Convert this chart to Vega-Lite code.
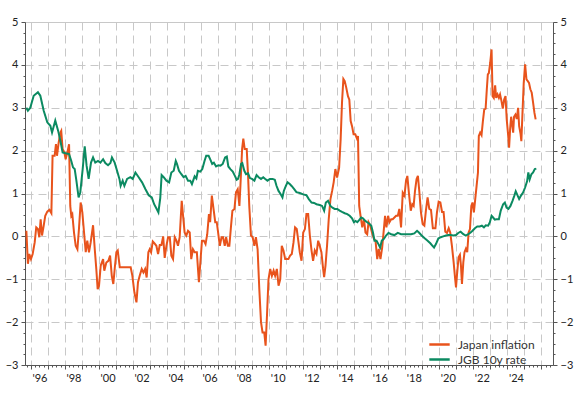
{
"$schema":"https://vega.github.io/schema/vega-lite/v6.json",
"width":528,"height":343,
"autosize":{"type":"none"},
"padding":{"left":25,"top":22,"right":26,"bottom":28},
"background":"white",
"config":{"view":{"stroke":"#c8c8c8"},"font":"Lato","axis":{"labelFont":"Lato","labelFontSize":11,"labelColor":"#222","domainColor":"#555","tickColor":"#555"}},
"data":{"values":[
{"s":"Japan inflation","t":1995.73,"v":0.13},{"s":"Japan inflation","t":1995.82,"v":-0.64},{"s":"Japan inflation","t":1995.9,"v":-0.41},{"s":"Japan inflation","t":1996.0,"v":-0.53},{"s":"Japan inflation","t":1996.1,"v":-0.41},{"s":"Japan inflation","t":1996.22,"v":-0.14},{"s":"Japan inflation","t":1996.31,"v":0.21},{"s":"Japan inflation","t":1996.41,"v":0.17},{"s":"Japan inflation","t":1996.49,"v":-0.02},{"s":"Japan inflation","t":1996.57,"v":0.4},{"s":"Japan inflation","t":1996.65,"v":0.02},{"s":"Japan inflation","t":1996.75,"v":0.25},{"s":"Japan inflation","t":1996.84,"v":0.48},{"s":"Japan inflation","t":1996.96,"v":0.58},{"s":"Japan inflation","t":1997.08,"v":0.62},{"s":"Japan inflation","t":1997.2,"v":0.54},{"s":"Japan inflation","t":1997.27,"v":1.88},{"s":"Japan inflation","t":1997.39,"v":1.88},{"s":"Japan inflation","t":1997.47,"v":2.15},{"s":"Japan inflation","t":1997.53,"v":1.88},{"s":"Japan inflation","t":1997.63,"v":2.19},{"s":"Japan inflation","t":1997.73,"v":2.42},{"s":"Japan inflation","t":1997.78,"v":2.46},{"s":"Japan inflation","t":1997.86,"v":2.04},{"s":"Japan inflation","t":1997.96,"v":1.96},{"s":"Japan inflation","t":1998.04,"v":1.8},{"s":"Japan inflation","t":1998.14,"v":1.96},{"s":"Japan inflation","t":1998.24,"v":2.15},{"s":"Japan inflation","t":1998.31,"v":0.71},{"s":"Japan inflation","t":1998.37,"v":0.48},{"s":"Japan inflation","t":1998.43,"v":0.52},{"s":"Japan inflation","t":1998.53,"v":0.09},{"s":"Japan inflation","t":1998.63,"v":-0.22},{"s":"Japan inflation","t":1998.73,"v":-0.3},{"s":"Japan inflation","t":1998.82,"v":0.17},{"s":"Japan inflation","t":1998.92,"v":0.79},{"s":"Japan inflation","t":1999.02,"v":0.56},{"s":"Japan inflation","t":1999.12,"v":0.09},{"s":"Japan inflation","t":1999.22,"v":-0.37},{"s":"Japan inflation","t":1999.31,"v":-0.1},{"s":"Japan inflation","t":1999.41,"v":-0.37},{"s":"Japan inflation","t":1999.51,"v":-0.14},{"s":"Japan inflation","t":1999.65,"v":0.26},{"s":"Japan inflation","t":1999.75,"v":-0.3},{"s":"Japan inflation","t":1999.84,"v":-0.76},{"s":"Japan inflation","t":1999.92,"v":-1.23},{"s":"Japan inflation","t":2000.0,"v":-1.15},{"s":"Japan inflation","t":2000.1,"v":-0.68},{"s":"Japan inflation","t":2000.24,"v":-0.53},{"s":"Japan inflation","t":2000.31,"v":-0.8},{"s":"Japan inflation","t":2000.43,"v":-0.61},{"s":"Japan inflation","t":2000.55,"v":-0.57},{"s":"Japan inflation","t":2000.65,"v":-0.45},{"s":"Japan inflation","t":2000.75,"v":-0.92},{"s":"Japan inflation","t":2000.84,"v":-1.11},{"s":"Japan inflation","t":2000.94,"v":-0.68},{"s":"Japan inflation","t":2001.02,"v":-0.37},{"s":"Japan inflation","t":2001.1,"v":-0.33},{"s":"Japan inflation","t":2001.22,"v":-0.72},{"s":"Japan inflation","t":2001.37,"v":-0.72},{"s":"Japan inflation","t":2001.57,"v":-0.72},{"s":"Japan inflation","t":2001.86,"v":-0.72},{"s":"Japan inflation","t":2001.96,"v":-0.92},{"s":"Japan inflation","t":2002.08,"v":-1.31},{"s":"Japan inflation","t":2002.2,"v":-1.54},{"s":"Japan inflation","t":2002.29,"v":-1.07},{"s":"Japan inflation","t":2002.39,"v":-0.92},{"s":"Japan inflation","t":2002.51,"v":-0.76},{"s":"Japan inflation","t":2002.61,"v":-0.84},{"s":"Japan inflation","t":2002.71,"v":-0.76},{"s":"Japan inflation","t":2002.8,"v":-0.96},{"s":"Japan inflation","t":2002.9,"v":-0.37},{"s":"Japan inflation","t":2002.98,"v":-0.3},{"s":"Japan inflation","t":2003.06,"v":-0.37},{"s":"Japan inflation","t":2003.16,"v":-0.12},{"s":"Japan inflation","t":2003.25,"v":-0.16},{"s":"Japan inflation","t":2003.37,"v":-0.22},{"s":"Japan inflation","t":2003.47,"v":-0.41},{"s":"Japan inflation","t":2003.57,"v":-0.2},{"s":"Japan inflation","t":2003.67,"v":-0.2},{"s":"Japan inflation","t":2003.77,"v":0.0},{"s":"Japan inflation","t":2003.86,"v":-0.5},{"s":"Japan inflation","t":2003.96,"v":-0.22},{"s":"Japan inflation","t":2004.06,"v":-0.02},{"s":"Japan inflation","t":2004.16,"v":-0.02},{"s":"Japan inflation","t":2004.25,"v":-0.45},{"s":"Japan inflation","t":2004.35,"v":-0.53},{"s":"Japan inflation","t":2004.45,"v":-0.02},{"s":"Japan inflation","t":2004.55,"v":-0.1},{"s":"Japan inflation","t":2004.64,"v":-0.22},{"s":"Japan inflation","t":2004.74,"v":-0.02},{"s":"Japan inflation","t":2004.86,"v":0.83},{"s":"Japan inflation","t":2004.94,"v":0.48},{"s":"Japan inflation","t":2005.03,"v":0.09},{"s":"Japan inflation","t":2005.13,"v":0.02},{"s":"Japan inflation","t":2005.23,"v":0.13},{"s":"Japan inflation","t":2005.33,"v":0.09},{"s":"Japan inflation","t":2005.42,"v":-0.53},{"s":"Japan inflation","t":2005.52,"v":-0.3},{"s":"Japan inflation","t":2005.62,"v":-0.37},{"s":"Japan inflation","t":2005.75,"v":-0.37},{"s":"Japan inflation","t":2005.87,"v":-1.07},{"s":"Japan inflation","t":2005.97,"v":-0.53},{"s":"Japan inflation","t":2006.05,"v":-0.1},{"s":"Japan inflation","t":2006.16,"v":-0.1},{"s":"Japan inflation","t":2006.26,"v":-0.18},{"s":"Japan inflation","t":2006.36,"v":0.05},{"s":"Japan inflation","t":2006.46,"v":0.52},{"s":"Japan inflation","t":2006.53,"v":0.33},{"s":"Japan inflation","t":2006.63,"v":0.95},{"s":"Japan inflation","t":2006.73,"v":0.64},{"s":"Japan inflation","t":2006.83,"v":0.33},{"s":"Japan inflation","t":2006.92,"v":0.33},{"s":"Japan inflation","t":2007.0,"v":0.09},{"s":"Japan inflation","t":2007.1,"v":-0.22},{"s":"Japan inflation","t":2007.2,"v":-0.02},{"s":"Japan inflation","t":2007.29,"v":-0.02},{"s":"Japan inflation","t":2007.39,"v":-0.22},{"s":"Japan inflation","t":2007.47,"v":-0.02},{"s":"Japan inflation","t":2007.57,"v":-0.22},{"s":"Japan inflation","t":2007.66,"v":-0.22},{"s":"Japan inflation","t":2007.76,"v":0.25},{"s":"Japan inflation","t":2007.84,"v":0.6},{"s":"Japan inflation","t":2007.96,"v":0.64},{"s":"Japan inflation","t":2008.05,"v":1.03},{"s":"Japan inflation","t":2008.15,"v":1.1},{"s":"Japan inflation","t":2008.25,"v":0.71},{"s":"Japan inflation","t":2008.31,"v":1.18},{"s":"Japan inflation","t":2008.41,"v":2.04},{"s":"Japan inflation","t":2008.48,"v":2.28},{"s":"Japan inflation","t":2008.56,"v":2.04},{"s":"Japan inflation","t":2008.68,"v":2.04},{"s":"Japan inflation","t":2008.76,"v":1.41},{"s":"Japan inflation","t":2008.83,"v":0.71},{"s":"Japan inflation","t":2008.93,"v":0.02},{"s":"Japan inflation","t":2009.03,"v":-0.02},{"s":"Japan inflation","t":2009.13,"v":-0.22},{"s":"Japan inflation","t":2009.22,"v":-0.02},{"s":"Japan inflation","t":2009.32,"v":-0.3},{"s":"Japan inflation","t":2009.42,"v":-1.23},{"s":"Japan inflation","t":2009.52,"v":-2.0},{"s":"Japan inflation","t":2009.61,"v":-2.24},{"s":"Japan inflation","t":2009.71,"v":-2.24},{"s":"Japan inflation","t":2009.79,"v":-2.55},{"s":"Japan inflation","t":2009.87,"v":-1.85},{"s":"Japan inflation","t":2009.96,"v":-1.0},{"s":"Japan inflation","t":2010.06,"v":-0.76},{"s":"Japan inflation","t":2010.16,"v":-0.92},{"s":"Japan inflation","t":2010.26,"v":-0.8},{"s":"Japan inflation","t":2010.35,"v":-0.92},{"s":"Japan inflation","t":2010.45,"v":-0.76},{"s":"Japan inflation","t":2010.55,"v":-1.15},{"s":"Japan inflation","t":2010.65,"v":-1.0},{"s":"Japan inflation","t":2010.74,"v":-0.22},{"s":"Japan inflation","t":2010.84,"v":-0.33},{"s":"Japan inflation","t":2010.94,"v":-0.53},{"s":"Japan inflation","t":2011.04,"v":-0.53},{"s":"Japan inflation","t":2011.13,"v":-0.53},{"s":"Japan inflation","t":2011.23,"v":-0.45},{"s":"Japan inflation","t":2011.33,"v":-0.41},{"s":"Japan inflation","t":2011.43,"v":-0.14},{"s":"Japan inflation","t":2011.52,"v":0.21},{"s":"Japan inflation","t":2011.62,"v":0.17},{"s":"Japan inflation","t":2011.71,"v":-0.1},{"s":"Japan inflation","t":2011.8,"v":-0.37},{"s":"Japan inflation","t":2011.9,"v":-0.57},{"s":"Japan inflation","t":2012.0,"v":0.09},{"s":"Japan inflation","t":2012.1,"v":0.17},{"s":"Japan inflation","t":2012.19,"v":0.52},{"s":"Japan inflation","t":2012.29,"v":0.52},{"s":"Japan inflation","t":2012.39,"v":0.02},{"s":"Japan inflation","t":2012.49,"v":-0.33},{"s":"Japan inflation","t":2012.58,"v":-0.57},{"s":"Japan inflation","t":2012.68,"v":-0.33},{"s":"Japan inflation","t":2012.78,"v":-0.41},{"s":"Japan inflation","t":2012.88,"v":-0.1},{"s":"Japan inflation","t":2012.97,"v":-0.22},{"s":"Japan inflation","t":2013.07,"v":-0.37},{"s":"Japan inflation","t":2013.17,"v":-0.76},{"s":"Japan inflation","t":2013.23,"v":-0.95},{"s":"Japan inflation","t":2013.31,"v":-0.68},{"s":"Japan inflation","t":2013.4,"v":-0.22},{"s":"Japan inflation","t":2013.5,"v":0.4},{"s":"Japan inflation","t":2013.6,"v":0.87},{"s":"Japan inflation","t":2013.7,"v":1.06},{"s":"Japan inflation","t":2013.79,"v":1.26},{"s":"Japan inflation","t":2013.89,"v":1.57},{"s":"Japan inflation","t":2013.99,"v":1.37},{"s":"Japan inflation","t":2014.11,"v":1.6},{"s":"Japan inflation","t":2014.2,"v":2.26},{"s":"Japan inflation","t":2014.28,"v":3.12},{"s":"Japan inflation","t":2014.36,"v":3.67},{"s":"Japan inflation","t":2014.44,"v":3.62},{"s":"Japan inflation","t":2014.53,"v":3.47},{"s":"Japan inflation","t":2014.63,"v":3.27},{"s":"Japan inflation","t":2014.71,"v":3.19},{"s":"Japan inflation","t":2014.79,"v":2.69},{"s":"Japan inflation","t":2014.87,"v":2.57},{"s":"Japan inflation","t":2014.96,"v":2.38},{"s":"Japan inflation","t":2015.06,"v":2.38},{"s":"Japan inflation","t":2015.16,"v":2.28},{"s":"Japan inflation","t":2015.22,"v":2.34},{"s":"Japan inflation","t":2015.29,"v":0.71},{"s":"Japan inflation","t":2015.37,"v":0.48},{"s":"Japan inflation","t":2015.47,"v":0.21},{"s":"Japan inflation","t":2015.57,"v":0.4},{"s":"Japan inflation","t":2015.66,"v":0.09},{"s":"Japan inflation","t":2015.76,"v":0.05},{"s":"Japan inflation","t":2015.84,"v":0.33},{"s":"Japan inflation","t":2015.94,"v":0.25},{"s":"Japan inflation","t":2016.04,"v":0.09},{"s":"Japan inflation","t":2016.16,"v":-0.06},{"s":"Japan inflation","t":2016.25,"v":-0.1},{"s":"Japan inflation","t":2016.35,"v":-0.53},{"s":"Japan inflation","t":2016.44,"v":-0.29},{"s":"Japan inflation","t":2016.54,"v":-0.53},{"s":"Japan inflation","t":2016.64,"v":-0.26},{"s":"Japan inflation","t":2016.74,"v":0.17},{"s":"Japan inflation","t":2016.81,"v":0.48},{"s":"Japan inflation","t":2016.89,"v":0.21},{"s":"Japan inflation","t":2016.99,"v":0.48},{"s":"Japan inflation","t":2017.07,"v":0.33},{"s":"Japan inflation","t":2017.17,"v":0.4},{"s":"Japan inflation","t":2017.26,"v":0.4},{"s":"Japan inflation","t":2017.36,"v":0.44},{"s":"Japan inflation","t":2017.46,"v":0.48},{"s":"Japan inflation","t":2017.56,"v":0.48},{"s":"Japan inflation","t":2017.65,"v":0.64},{"s":"Japan inflation","t":2017.75,"v":0.21},{"s":"Japan inflation","t":2017.85,"v":1.02},{"s":"Japan inflation","t":2017.95,"v":0.95},{"s":"Japan inflation","t":2018.04,"v":1.29},{"s":"Japan inflation","t":2018.12,"v":1.41},{"s":"Japan inflation","t":2018.22,"v":0.98},{"s":"Japan inflation","t":2018.32,"v":0.6},{"s":"Japan inflation","t":2018.41,"v":0.75},{"s":"Japan inflation","t":2018.49,"v":0.71},{"s":"Japan inflation","t":2018.57,"v":1.06},{"s":"Japan inflation","t":2018.66,"v":1.33},{"s":"Japan inflation","t":2018.74,"v":1.41},{"s":"Japan inflation","t":2018.82,"v":1.06},{"s":"Japan inflation","t":2018.92,"v":0.56},{"s":"Japan inflation","t":2019.02,"v":0.29},{"s":"Japan inflation","t":2019.12,"v":0.25},{"s":"Japan inflation","t":2019.21,"v":0.6},{"s":"Japan inflation","t":2019.31,"v":0.91},{"s":"Japan inflation","t":2019.41,"v":0.64},{"s":"Japan inflation","t":2019.51,"v":0.62},{"s":"Japan inflation","t":2019.62,"v":0.19},{"s":"Japan inflation","t":2019.77,"v":0.19},{"s":"Japan inflation","t":2019.86,"v":0.56},{"s":"Japan inflation","t":2019.96,"v":0.81},{"s":"Japan inflation","t":2020.06,"v":0.79},{"s":"Japan inflation","t":2020.16,"v":0.57},{"s":"Japan inflation","t":2020.25,"v":0.57},{"s":"Japan inflation","t":2020.35,"v":0.11},{"s":"Japan inflation","t":2020.45,"v":0.08},{"s":"Japan inflation","t":2020.55,"v":0.19},{"s":"Japan inflation","t":2020.64,"v":0.09},{"s":"Japan inflation","t":2020.74,"v":-0.22},{"s":"Japan inflation","t":2020.84,"v":-0.6},{"s":"Japan inflation","t":2020.92,"v":-0.95},{"s":"Japan inflation","t":2020.98,"v":-1.19},{"s":"Japan inflation","t":2021.05,"v":-0.84},{"s":"Japan inflation","t":2021.13,"v":-0.49},{"s":"Japan inflation","t":2021.21,"v":-0.43},{"s":"Japan inflation","t":2021.27,"v":-0.68},{"s":"Japan inflation","t":2021.33,"v":-1.11},{"s":"Japan inflation","t":2021.41,"v":-0.6},{"s":"Japan inflation","t":2021.48,"v":-0.37},{"s":"Japan inflation","t":2021.56,"v":-0.29},{"s":"Japan inflation","t":2021.64,"v":-0.37},{"s":"Japan inflation","t":2021.72,"v":0.09},{"s":"Japan inflation","t":2021.8,"v":0.17},{"s":"Japan inflation","t":2021.88,"v":0.71},{"s":"Japan inflation","t":2021.95,"v":0.79},{"s":"Japan inflation","t":2022.03,"v":0.56},{"s":"Japan inflation","t":2022.11,"v":0.87},{"s":"Japan inflation","t":2022.19,"v":1.18},{"s":"Japan inflation","t":2022.27,"v":1.49},{"s":"Japan inflation","t":2022.32,"v":2.34},{"s":"Japan inflation","t":2022.4,"v":2.42},{"s":"Japan inflation","t":2022.48,"v":2.36},{"s":"Japan inflation","t":2022.56,"v":2.69},{"s":"Japan inflation","t":2022.64,"v":2.96},{"s":"Japan inflation","t":2022.72,"v":2.98},{"s":"Japan inflation","t":2022.79,"v":3.43},{"s":"Japan inflation","t":2022.85,"v":3.78},{"s":"Japan inflation","t":2022.91,"v":3.81},{"s":"Japan inflation","t":2022.99,"v":4.05},{"s":"Japan inflation","t":2023.07,"v":4.36},{"s":"Japan inflation","t":2023.13,"v":3.27},{"s":"Japan inflation","t":2023.2,"v":3.23},{"s":"Japan inflation","t":2023.28,"v":3.52},{"s":"Japan inflation","t":2023.34,"v":3.23},{"s":"Japan inflation","t":2023.42,"v":3.31},{"s":"Japan inflation","t":2023.5,"v":3.23},{"s":"Japan inflation","t":2023.57,"v":3.31},{"s":"Japan inflation","t":2023.65,"v":3.16},{"s":"Japan inflation","t":2023.73,"v":2.98},{"s":"Japan inflation","t":2023.81,"v":3.19},{"s":"Japan inflation","t":2023.89,"v":3.27},{"s":"Japan inflation","t":2023.96,"v":2.73},{"s":"Japan inflation","t":2024.04,"v":2.38},{"s":"Japan inflation","t":2024.1,"v":2.07},{"s":"Japan inflation","t":2024.16,"v":2.5},{"s":"Japan inflation","t":2024.22,"v":2.79},{"s":"Japan inflation","t":2024.28,"v":2.61},{"s":"Japan inflation","t":2024.34,"v":2.42},{"s":"Japan inflation","t":2024.39,"v":2.79},{"s":"Japan inflation","t":2024.47,"v":2.84},{"s":"Japan inflation","t":2024.55,"v":2.74},{"s":"Japan inflation","t":2024.63,"v":3.0},{"s":"Japan inflation","t":2024.69,"v":2.57},{"s":"Japan inflation","t":2024.77,"v":2.4},{"s":"Japan inflation","t":2024.82,"v":2.22},{"s":"Japan inflation","t":2024.88,"v":2.81},{"s":"Japan inflation","t":2024.96,"v":3.58},{"s":"Japan inflation","t":2025.04,"v":4.01},{"s":"Japan inflation","t":2025.12,"v":3.66},{"s":"Japan inflation","t":2025.2,"v":3.62},{"s":"Japan inflation","t":2025.27,"v":3.58},{"s":"Japan inflation","t":2025.35,"v":3.43},{"s":"Japan inflation","t":2025.43,"v":3.35},{"s":"Japan inflation","t":2025.51,"v":3.12},{"s":"Japan inflation","t":2025.59,"v":2.88},{"s":"Japan inflation","t":2025.66,"v":2.73},
{"s":"JGB 10y rate","t":1995.73,"v":3.0},{"s":"JGB 10y rate","t":1995.82,"v":2.93},{"s":"JGB 10y rate","t":1995.96,"v":3.0},{"s":"JGB 10y rate","t":1996.16,"v":3.28},{"s":"JGB 10y rate","t":1996.41,"v":3.36},{"s":"JGB 10y rate","t":1996.55,"v":3.28},{"s":"JGB 10y rate","t":1996.75,"v":2.93},{"s":"JGB 10y rate","t":1996.96,"v":2.66},{"s":"JGB 10y rate","t":1997.14,"v":2.58},{"s":"JGB 10y rate","t":1997.24,"v":2.42},{"s":"JGB 10y rate","t":1997.43,"v":2.7},{"s":"JGB 10y rate","t":1997.6,"v":2.46},{"s":"JGB 10y rate","t":1997.75,"v":2.19},{"s":"JGB 10y rate","t":1997.86,"v":1.96},{"s":"JGB 10y rate","t":1998.04,"v":1.94},{"s":"JGB 10y rate","t":1998.24,"v":1.92},{"s":"JGB 10y rate","t":1998.37,"v":1.76},{"s":"JGB 10y rate","t":1998.47,"v":1.61},{"s":"JGB 10y rate","t":1998.57,"v":1.57},{"s":"JGB 10y rate","t":1998.67,"v":1.3},{"s":"JGB 10y rate","t":1998.8,"v":0.91},{"s":"JGB 10y rate","t":1998.9,"v":1.03},{"s":"JGB 10y rate","t":1999.04,"v":1.57},{"s":"JGB 10y rate","t":1999.16,"v":2.1},{"s":"JGB 10y rate","t":1999.27,"v":1.65},{"s":"JGB 10y rate","t":1999.39,"v":1.34},{"s":"JGB 10y rate","t":1999.53,"v":1.72},{"s":"JGB 10y rate","t":1999.65,"v":1.84},{"s":"JGB 10y rate","t":1999.78,"v":1.72},{"s":"JGB 10y rate","t":1999.94,"v":1.76},{"s":"JGB 10y rate","t":2000.08,"v":1.72},{"s":"JGB 10y rate","t":2000.24,"v":1.8},{"s":"JGB 10y rate","t":2000.37,"v":1.71},{"s":"JGB 10y rate","t":2000.53,"v":1.66},{"s":"JGB 10y rate","t":2000.67,"v":1.71},{"s":"JGB 10y rate","t":2000.76,"v":1.84},{"s":"JGB 10y rate","t":2000.92,"v":1.72},{"s":"JGB 10y rate","t":2001.06,"v":1.53},{"s":"JGB 10y rate","t":2001.2,"v":1.34},{"s":"JGB 10y rate","t":2001.27,"v":1.18},{"s":"JGB 10y rate","t":2001.39,"v":1.3},{"s":"JGB 10y rate","t":2001.49,"v":1.18},{"s":"JGB 10y rate","t":2001.65,"v":1.34},{"s":"JGB 10y rate","t":2001.84,"v":1.38},{"s":"JGB 10y rate","t":2001.98,"v":1.34},{"s":"JGB 10y rate","t":2002.14,"v":1.49},{"s":"JGB 10y rate","t":2002.33,"v":1.38},{"s":"JGB 10y rate","t":2002.53,"v":1.26},{"s":"JGB 10y rate","t":2002.73,"v":1.1},{"s":"JGB 10y rate","t":2002.92,"v":0.96},{"s":"JGB 10y rate","t":2003.1,"v":0.91},{"s":"JGB 10y rate","t":2003.24,"v":0.75},{"s":"JGB 10y rate","t":2003.39,"v":0.64},{"s":"JGB 10y rate","t":2003.49,"v":0.56},{"s":"JGB 10y rate","t":2003.6,"v":0.9},{"s":"JGB 10y rate","t":2003.68,"v":1.43},{"s":"JGB 10y rate","t":2003.8,"v":1.38},{"s":"JGB 10y rate","t":2003.96,"v":1.3},{"s":"JGB 10y rate","t":2004.12,"v":1.26},{"s":"JGB 10y rate","t":2004.25,"v":1.49},{"s":"JGB 10y rate","t":2004.39,"v":1.53},{"s":"JGB 10y rate","t":2004.51,"v":1.76},{"s":"JGB 10y rate","t":2004.58,"v":1.69},{"s":"JGB 10y rate","t":2004.7,"v":1.53},{"s":"JGB 10y rate","t":2004.84,"v":1.45},{"s":"JGB 10y rate","t":2004.97,"v":1.38},{"s":"JGB 10y rate","t":2005.09,"v":1.41},{"s":"JGB 10y rate","t":2005.23,"v":1.3},{"s":"JGB 10y rate","t":2005.36,"v":1.3},{"s":"JGB 10y rate","t":2005.46,"v":1.22},{"s":"JGB 10y rate","t":2005.62,"v":1.4},{"s":"JGB 10y rate","t":2005.72,"v":1.35},{"s":"JGB 10y rate","t":2005.81,"v":1.53},{"s":"JGB 10y rate","t":2005.95,"v":1.51},{"s":"JGB 10y rate","t":2006.07,"v":1.57},{"s":"JGB 10y rate","t":2006.2,"v":1.76},{"s":"JGB 10y rate","t":2006.3,"v":1.88},{"s":"JGB 10y rate","t":2006.44,"v":1.88},{"s":"JGB 10y rate","t":2006.53,"v":1.8},{"s":"JGB 10y rate","t":2006.65,"v":1.69},{"s":"JGB 10y rate","t":2006.75,"v":1.72},{"s":"JGB 10y rate","t":2006.88,"v":1.63},{"s":"JGB 10y rate","t":2007.02,"v":1.66},{"s":"JGB 10y rate","t":2007.14,"v":1.65},{"s":"JGB 10y rate","t":2007.27,"v":1.69},{"s":"JGB 10y rate","t":2007.41,"v":1.84},{"s":"JGB 10y rate","t":2007.51,"v":1.86},{"s":"JGB 10y rate","t":2007.6,"v":1.63},{"s":"JGB 10y rate","t":2007.72,"v":1.57},{"s":"JGB 10y rate","t":2007.86,"v":1.51},{"s":"JGB 10y rate","t":2008.0,"v":1.4},{"s":"JGB 10y rate","t":2008.09,"v":1.32},{"s":"JGB 10y rate","t":2008.17,"v":1.34},{"s":"JGB 10y rate","t":2008.25,"v":1.45},{"s":"JGB 10y rate","t":2008.35,"v":1.69},{"s":"JGB 10y rate","t":2008.42,"v":1.71},{"s":"JGB 10y rate","t":2008.54,"v":1.53},{"s":"JGB 10y rate","t":2008.64,"v":1.45},{"s":"JGB 10y rate","t":2008.76,"v":1.47},{"s":"JGB 10y rate","t":2008.87,"v":1.36},{"s":"JGB 10y rate","t":2008.99,"v":1.34},{"s":"JGB 10y rate","t":2009.13,"v":1.3},{"s":"JGB 10y rate","t":2009.26,"v":1.43},{"s":"JGB 10y rate","t":2009.38,"v":1.38},{"s":"JGB 10y rate","t":2009.52,"v":1.34},{"s":"JGB 10y rate","t":2009.65,"v":1.38},{"s":"JGB 10y rate","t":2009.77,"v":1.34},{"s":"JGB 10y rate","t":2009.9,"v":1.3},{"s":"JGB 10y rate","t":2010.04,"v":1.34},{"s":"JGB 10y rate","t":2010.2,"v":1.34},{"s":"JGB 10y rate","t":2010.33,"v":1.32},{"s":"JGB 10y rate","t":2010.43,"v":1.18},{"s":"JGB 10y rate","t":2010.55,"v":1.06},{"s":"JGB 10y rate","t":2010.67,"v":0.99},{"s":"JGB 10y rate","t":2010.78,"v":0.91},{"s":"JGB 10y rate","t":2010.86,"v":1.06},{"s":"JGB 10y rate","t":2010.98,"v":1.18},{"s":"JGB 10y rate","t":2011.08,"v":1.26},{"s":"JGB 10y rate","t":2011.21,"v":1.22},{"s":"JGB 10y rate","t":2011.33,"v":1.17},{"s":"JGB 10y rate","t":2011.47,"v":1.1},{"s":"JGB 10y rate","t":2011.6,"v":1.03},{"s":"JGB 10y rate","t":2011.8,"v":1.01},{"s":"JGB 10y rate","t":2012.0,"v":0.98},{"s":"JGB 10y rate","t":2012.19,"v":0.96},{"s":"JGB 10y rate","t":2012.33,"v":0.87},{"s":"JGB 10y rate","t":2012.49,"v":0.79},{"s":"JGB 10y rate","t":2012.64,"v":0.78},{"s":"JGB 10y rate","t":2012.78,"v":0.75},{"s":"JGB 10y rate","t":2012.97,"v":0.73},{"s":"JGB 10y rate","t":2013.11,"v":0.71},{"s":"JGB 10y rate","t":2013.23,"v":0.6},{"s":"JGB 10y rate","t":2013.33,"v":0.79},{"s":"JGB 10y rate","t":2013.46,"v":0.83},{"s":"JGB 10y rate","t":2013.6,"v":0.71},{"s":"JGB 10y rate","t":2013.72,"v":0.67},{"s":"JGB 10y rate","t":2013.85,"v":0.64},{"s":"JGB 10y rate","t":2014.0,"v":0.64},{"s":"JGB 10y rate","t":2014.14,"v":0.6},{"s":"JGB 10y rate","t":2014.28,"v":0.57},{"s":"JGB 10y rate","t":2014.44,"v":0.54},{"s":"JGB 10y rate","t":2014.59,"v":0.52},{"s":"JGB 10y rate","t":2014.73,"v":0.48},{"s":"JGB 10y rate","t":2014.87,"v":0.42},{"s":"JGB 10y rate","t":2014.98,"v":0.33},{"s":"JGB 10y rate","t":2015.08,"v":0.36},{"s":"JGB 10y rate","t":2015.18,"v":0.33},{"s":"JGB 10y rate","t":2015.31,"v":0.39},{"s":"JGB 10y rate","t":2015.41,"v":0.44},{"s":"JGB 10y rate","t":2015.51,"v":0.42},{"s":"JGB 10y rate","t":2015.65,"v":0.36},{"s":"JGB 10y rate","t":2015.76,"v":0.33},{"s":"JGB 10y rate","t":2015.9,"v":0.29},{"s":"JGB 10y rate","t":2016.0,"v":0.25},{"s":"JGB 10y rate","t":2016.1,"v":0.09},{"s":"JGB 10y rate","t":2016.19,"v":-0.1},{"s":"JGB 10y rate","t":2016.31,"v":-0.1},{"s":"JGB 10y rate","t":2016.42,"v":-0.18},{"s":"JGB 10y rate","t":2016.52,"v":-0.26},{"s":"JGB 10y rate","t":2016.62,"v":-0.1},{"s":"JGB 10y rate","t":2016.74,"v":-0.06},{"s":"JGB 10y rate","t":2016.87,"v":0.02},{"s":"JGB 10y rate","t":2017.01,"v":0.08},{"s":"JGB 10y rate","t":2017.17,"v":0.05},{"s":"JGB 10y rate","t":2017.36,"v":0.03},{"s":"JGB 10y rate","t":2017.56,"v":0.08},{"s":"JGB 10y rate","t":2017.75,"v":0.05},{"s":"JGB 10y rate","t":2017.95,"v":0.05},{"s":"JGB 10y rate","t":2018.14,"v":0.05},{"s":"JGB 10y rate","t":2018.34,"v":0.05},{"s":"JGB 10y rate","t":2018.53,"v":0.07},{"s":"JGB 10y rate","t":2018.69,"v":0.13},{"s":"JGB 10y rate","t":2018.8,"v":0.09},{"s":"JGB 10y rate","t":2018.96,"v":0.02},{"s":"JGB 10y rate","t":2019.12,"v":-0.04},{"s":"JGB 10y rate","t":2019.31,"v":-0.1},{"s":"JGB 10y rate","t":2019.47,"v":-0.16},{"s":"JGB 10y rate","t":2019.6,"v":-0.22},{"s":"JGB 10y rate","t":2019.69,"v":-0.26},{"s":"JGB 10y rate","t":2019.8,"v":-0.18},{"s":"JGB 10y rate","t":2019.94,"v":-0.05},{"s":"JGB 10y rate","t":2020.08,"v":-0.02},{"s":"JGB 10y rate","t":2020.23,"v":0.0},{"s":"JGB 10y rate","t":2020.39,"v":0.02},{"s":"JGB 10y rate","t":2020.53,"v":0.03},{"s":"JGB 10y rate","t":2020.66,"v":0.03},{"s":"JGB 10y rate","t":2020.82,"v":0.02},{"s":"JGB 10y rate","t":2020.98,"v":0.03},{"s":"JGB 10y rate","t":2021.11,"v":0.08},{"s":"JGB 10y rate","t":2021.25,"v":0.11},{"s":"JGB 10y rate","t":2021.41,"v":0.05},{"s":"JGB 10y rate","t":2021.56,"v":0.02},{"s":"JGB 10y rate","t":2021.7,"v":0.05},{"s":"JGB 10y rate","t":2021.84,"v":0.09},{"s":"JGB 10y rate","t":2021.95,"v":0.13},{"s":"JGB 10y rate","t":2022.09,"v":0.19},{"s":"JGB 10y rate","t":2022.23,"v":0.23},{"s":"JGB 10y rate","t":2022.38,"v":0.23},{"s":"JGB 10y rate","t":2022.5,"v":0.25},{"s":"JGB 10y rate","t":2022.62,"v":0.21},{"s":"JGB 10y rate","t":2022.73,"v":0.26},{"s":"JGB 10y rate","t":2022.87,"v":0.25},{"s":"JGB 10y rate","t":2022.97,"v":0.33},{"s":"JGB 10y rate","t":2023.07,"v":0.48},{"s":"JGB 10y rate","t":2023.16,"v":0.44},{"s":"JGB 10y rate","t":2023.26,"v":0.39},{"s":"JGB 10y rate","t":2023.36,"v":0.4},{"s":"JGB 10y rate","t":2023.5,"v":0.4},{"s":"JGB 10y rate","t":2023.61,"v":0.6},{"s":"JGB 10y rate","t":2023.75,"v":0.75},{"s":"JGB 10y rate","t":2023.85,"v":0.79},{"s":"JGB 10y rate","t":2023.95,"v":0.67},{"s":"JGB 10y rate","t":2024.06,"v":0.64},{"s":"JGB 10y rate","t":2024.18,"v":0.71},{"s":"JGB 10y rate","t":2024.3,"v":0.83},{"s":"JGB 10y rate","t":2024.41,"v":0.95},{"s":"JGB 10y rate","t":2024.49,"v":1.05},{"s":"JGB 10y rate","t":2024.57,"v":0.98},{"s":"JGB 10y rate","t":2024.69,"v":0.87},{"s":"JGB 10y rate","t":2024.8,"v":0.95},{"s":"JGB 10y rate","t":2024.92,"v":1.02},{"s":"JGB 10y rate","t":2025.04,"v":1.14},{"s":"JGB 10y rate","t":2025.16,"v":1.29},{"s":"JGB 10y rate","t":2025.23,"v":1.49},{"s":"JGB 10y rate","t":2025.31,"v":1.33},{"s":"JGB 10y rate","t":2025.41,"v":1.45},{"s":"JGB 10y rate","t":2025.51,"v":1.49},{"s":"JGB 10y rate","t":2025.61,"v":1.57},{"s":"JGB 10y rate","t":2025.7,"v":1.58}
]},
"resolve":{"axis":{"x":"independent","y":"independent"}},
"layer":[
{"mark":{"type":"point","opacity":0},
 "encoding":{
  "x":{"field":"t","type":"quantitative","scale":{"domain":[1995.65,2026.68],"nice":false,"zero":false},
       "axis":{"orient":"bottom","title":null,"grid":true,"gridColor":"#c8c8c8","gridDash":[8,5],"values":[1996,1997,1998,1999,2000,2001,2002,2003,2004,2005,2006,2007,2008,2009,2010,2011,2012,2013,2014,2015,2016,2017,2018,2019,2020,2021,2022,2023,2024,2025,2026],
       "labelExpr":"(datum.value % 2 == 0 && datum.value < 2025) ? \"'\" + format(datum.value % 100, '02d') : ''","labelOffset":8.5,"labelPadding":3,"tickSize":4,"domain":true,"labelOverlap":false,"labelBound":false,"labelFlush":false}},
  "y":{"field":"v","type":"quantitative","scale":{"domain":[-3,5],"nice":false,"zero":false},
       "axis":{"orient":"left","title":null,"grid":true,"gridColor":"#c8c8c8","gridDash":[8,5],"values":[-3,-2,-1,0,1,2,3,4,5],"format":"d","tickSize":4,"labelPadding":3,"labelOverlap":false,"labelBound":false,"labelFlush":false}}
 }},
{"mark":{"type":"point","opacity":0},
 "encoding":{
  "x":{"field":"t","type":"quantitative","axis":{"orient":"bottom","title":null,"grid":false,"labels":false,"domain":false,"tickSize":2,"values":[1995.75,1996.25,1996.5,1996.75,1997.25,1997.5,1997.75,1998.25,1998.5,1998.75,1999.25,1999.5,1999.75,2000.25,2000.5,2000.75,2001.25,2001.5,2001.75,2002.25,2002.5,2002.75,2003.25,2003.5,2003.75,2004.25,2004.5,2004.75,2005.25,2005.5,2005.75,2006.25,2006.5,2006.75,2007.25,2007.5,2007.75,2008.25,2008.5,2008.75,2009.25,2009.5,2009.75,2010.25,2010.5,2010.75,2011.25,2011.5,2011.75,2012.25,2012.5,2012.75,2013.25,2013.5,2013.75,2014.25,2014.5,2014.75,2015.25,2015.5,2015.75,2016.25,2016.5,2016.75,2017.25,2017.5,2017.75,2018.25,2018.5,2018.75,2019.25,2019.5,2019.75,2020.25,2020.5,2020.75,2021.25,2021.5,2021.75,2022.25,2022.5,2022.75,2023.25,2023.5,2023.75,2024.25,2024.5,2024.75,2025.25,2025.5,2025.75,2026.25,2026.5]}},
  "y":{"field":"v","type":"quantitative","axis":{"orient":"right","title":null,"grid":false,"values":[-3,-2,-1,0,1,2,3,4,5],"format":"d","tickSize":4,"labelPadding":3,"labelOverlap":false,"labelBound":false,"labelFlush":false}}
 }},
{"mark":{"type":"point","opacity":0},
 "encoding":{
  "x":{"field":"t","type":"quantitative","axis":null},
  "y":{"field":"v","type":"quantitative","axis":{"orient":"left","title":null,"grid":false,"labels":false,"domain":false,"tickSize":2,"values":[-2.75,-2.5,-2.25,-1.75,-1.5,-1.25,-0.75,-0.5,-0.25,0.25,0.5,0.75,1.25,1.5,1.75,2.25,2.5,2.75,3.25,3.5,3.75,4.25,4.5,4.75]}}
 }},
{"mark":{"type":"point","opacity":0},
 "encoding":{
  "x":{"field":"t","type":"quantitative","axis":null},
  "y":{"field":"v","type":"quantitative","axis":{"orient":"right","title":null,"grid":false,"labels":false,"domain":false,"tickSize":2,"values":[-2.75,-2.5,-2.25,-1.75,-1.5,-1.25,-0.75,-0.5,-0.25,0.25,0.5,0.75,1.25,1.5,1.75,2.25,2.5,2.75,3.25,3.5,3.75,4.25,4.5,4.75]}}
 }},
{"mark":{"type":"line","strokeWidth":2},
 "encoding":{
  "x":{"field":"t","type":"quantitative","axis":null},
  "y":{"field":"v","type":"quantitative","axis":null},
  "order":{"field":"t","type":"quantitative"},
  "color":{"field":"s","type":"nominal","scale":{"domain":["Japan inflation","JGB 10y rate"],"range":["#e8531c","#0b8a61"]},
     "legend":{"title":null,"orient":"none","legendX":407,"legendY":315,"symbolType":"M-1.7,0H1.7","symbolStrokeWidth":2.5,"symbolSize":144,"labelFont":"Lato","labelFontSize":12,"labelColor":"#333","labelOffset":11,"rowPadding":1,"padding":0}}
 }}
]
}
